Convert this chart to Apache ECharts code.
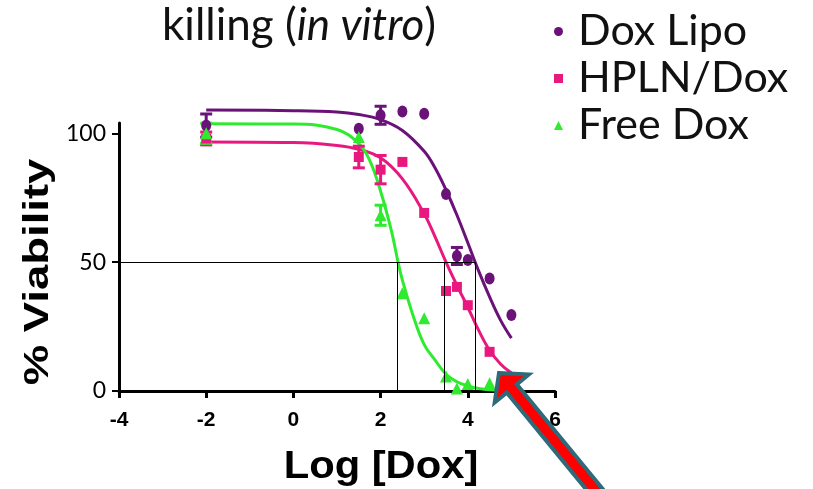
<!DOCTYPE html>
<html>
<head>
<meta charset="utf-8">
<script src="https://cdn.jsdelivr.net/npm/echarts@6/dist/echarts.min.js"></script>
<style>
  html, body { margin: 0; padding: 0; background: #fff; }
  #main { width: 813px; height: 489px; }
</style>
</head>
<body>
<div id="main"></div>
<script>
// measured points [logDox, % viability]
const lipoPts = [[-2, 103], [1.5, 101.8], [2, 107], [2.5, 108.5], [3, 107.6], [3.5, 76.4], [3.75, 52.4], [4, 50.8], [4.5, 43.7], [5, 29.5]];
const hplnPts = [[-2, 98], [1.5, 90.8], [2, 85.9], [2.5, 88.9], [3, 69.1], [3.5, 38.8], [3.75, 40.4], [4, 33.3], [4.5, 15.2]];
const freePts = [[-2, 100], [1.5, 98.6], [2, 68.2], [2.5, 37.9], [3, 28.2], [3.5, 5.6], [3.75, 1.0], [4, 2.7], [4.5, 3.0]];

// error bars [x, mean, +/-]
const lipoErr = [[-2, 103, 4.5], [2, 107, 3.5], [3.75, 52.4, 3.3]];
const hplnErr = [[-2, 98, 2.5], [1.5, 90.8, 4.2], [2, 85.9, 5.5]];
const freeErr = [[-2, 100, 3.9], [2, 68.2, 3.9]];

// fitted curves
const lipoFit = [[-2, 109], [0, 108.8], [1, 108.3], [1.5, 107.3], [2, 105.3], [2.5, 101.1], [3, 93], [3.25, 86.5], [3.5, 78], [3.75, 68.3], [4, 57.5], [4.25, 46.5], [4.5, 36.5], [4.75, 27.5], [5, 20.5]];
const hplnFit = [[-2, 96.6], [0, 96.4], [1, 95.3], [1.5, 93.8], [2, 90.5], [2.5, 82.3], [3, 68.8], [3.25, 59.8], [3.5, 50], [3.75, 41], [4, 32.5], [4.25, 23.5], [4.5, 15.8], [4.75, 10.5], [5, 7]];
const freeFit = [[-2, 103.7], [0, 103.6], [1, 101.5], [1.5, 96], [1.75, 89.5], [2, 77.5], [2.25, 62], [2.4, 50], [2.5, 43], [2.75, 29], [3, 18], [3.25, 12], [3.5, 6.5], [3.75, 3.6], [4, 2], [4.25, 1], [4.5, 0.5], [5, 0.2]];

// IC50 guide lines
const icLevel = 50;
const icX = [2.38, 3.46, 4.17];

const yTicks = [0, 50, 100];

const PURPLE = '#6a1278', PINK = '#e8187e', GREEN = '#2fea2f';

var chart = echarts.init(document.getElementById('main'));

function errBar(color) {
  return function (params, api) {
    var x = api.value(0), m = api.value(1), e = api.value(2);
    var top = api.coord([x, m + e]), bot = api.coord([x, m - e]);
    var hw = 6;
    var st = { stroke: color, lineWidth: 3 };
    return {
      type: 'group',
      children: [
        { type: 'line', shape: { x1: top[0], y1: top[1], x2: bot[0], y2: bot[1] }, style: st },
        { type: 'line', shape: { x1: top[0] - hw, y1: top[1], x2: top[0] + hw, y2: top[1] }, style: st },
        { type: 'line', shape: { x1: bot[0] - hw, y1: bot[1], x2: bot[0] + hw, y2: bot[1] }, style: st }
      ]
    };
  };
}

function fitLine(data, color, extra) {
  return Object.assign({
    type: 'line', data: data, smooth: 0.4, showSymbol: false,
    clip: false, silent: true, lineStyle: { color: color, width: 3 }, z: 2
  }, extra || {});
}

// arrow annotation
var tip = [499, 373];
var d = [-0.635, -0.773], p = [0.773, -0.635];
var headLen = 20, headHalf = 22, shaftHalf = 6.5, shaftLen = 160;
var B = [tip[0] - headLen * d[0], tip[1] - headLen * d[1]];
var E = [B[0] - shaftLen * d[0], B[1] - shaftLen * d[1]];
var arrowPts = [
  tip,
  [B[0] + headHalf * p[0], B[1] + headHalf * p[1]],
  [B[0] + shaftHalf * p[0], B[1] + shaftHalf * p[1]],
  [E[0] + shaftHalf * p[0], E[1] + shaftHalf * p[1]],
  [E[0] - shaftHalf * p[0], E[1] - shaftHalf * p[1]],
  [B[0] - shaftHalf * p[0], B[1] - shaftHalf * p[1]],
  [B[0] - headHalf * p[0], B[1] - headHalf * p[1]]
];

var option = {
  backgroundColor: '#fff',
  animation: false,
  title: {
    text: '{n|killing (}{i|in vitro}{n|)}',
    left: 157, top: -1,
    textStyle: {
      fontWeight: 'normal',
      rich: {
        n: { fontFamily: 'Lato', fontSize: 44, fontWeight: 'normal', color: '#111' },
        i: { fontFamily: 'Lato', fontSize: 44, fontWeight: 'normal', fontStyle: 'italic', color: '#111' }
      }
    }
  },
  legend: {
    orient: 'vertical', left: 549, top: 5,
    itemWidth: 9, itemHeight: 9, itemGap: 4,
    data: [
      { name: 'Dox Lipo', icon: 'circle' },
      { name: 'HPLN/Dox', icon: 'rect' },
      { name: 'Free Dox', icon: 'triangle' }
    ],
    textStyle: { fontFamily: 'Lato', fontSize: 43, color: '#111', padding: [0, 0, 0, 10] }
  },
  grid: { left: 119, top: 123, width: 436, height: 268 },
  xAxis: {
    type: 'value', min: -4, max: 6, interval: 2,
    splitLine: { show: false },
    axisLine: { show: true, onZero: false, lineStyle: { color: '#000', width: 3 } },
    axisTick: { show: true, length: 7, lineStyle: { color: '#000', width: 3 } },
    axisLabel: { margin: 19, color: '#000', fontFamily: 'Liberation Sans', fontWeight: 'bold', fontSize: 21 }
  },
  yAxis: {
    type: 'value', min: 0, max: 104,
    splitLine: { show: false },
    axisLine: { show: true, onZero: false, lineStyle: { color: '#000', width: 3 } },
    axisTick: { show: true, length: 7, customValues: yTicks, lineStyle: { color: '#000', width: 2 } },
    axisLabel: { margin: 13, color: '#000', fontFamily: 'Lato', fontSize: 23, customValues: yTicks }
  },
  series: [
    fitLine(lipoFit, PURPLE, {
      markLine: {
        silent: true, symbol: 'none', label: { show: false },
        lineStyle: { color: '#000', width: 1, type: 'solid' },
        data: [[{ coord: [-4, icLevel] }, { coord: [icX[2], icLevel] }]].concat(
          icX.map(function (x) { return [{ coord: [x, 0] }, { coord: [x, icLevel] }]; })
        )
      }
    }),
    fitLine(hplnFit, PINK),
    fitLine(freeFit, GREEN),
    { type: 'custom', renderItem: errBar(PURPLE), data: lipoErr, clip: false, z: 3 },
    { type: 'custom', renderItem: errBar(PINK), data: hplnErr, clip: false, z: 3 },
    { type: 'custom', renderItem: errBar(GREEN), data: freeErr, clip: false, z: 3 },
    { name: 'Dox Lipo', type: 'scatter', data: lipoPts, symbol: 'circle', symbolSize: [10, 12], itemStyle: { color: PURPLE, opacity: 1 }, clip: false, z: 4 },
    { name: 'HPLN/Dox', type: 'scatter', data: hplnPts, symbol: 'rect', symbolSize: 10, itemStyle: { color: PINK, opacity: 1 }, clip: false, z: 4 },
    { name: 'Free Dox', type: 'scatter', data: freePts, symbol: 'triangle', symbolSize: 12, itemStyle: { color: GREEN, opacity: 1 }, clip: false, z: 4 }
  ],
  graphic: [
    {
      type: 'text', x: 38, y: 272, rotation: Math.PI / 2, scaleX: 1.3,
      style: { text: '% Viability', font: 'bold 35px "Liberation Sans"', fill: '#000', align: 'center', verticalAlign: 'middle' }
    },
    {
      type: 'text', x: 381, y: 467, scaleX: 1.07,
      style: { text: 'Log [Dox]', font: 'bold 39px "Liberation Sans"', fill: '#000', align: 'center', verticalAlign: 'middle' }
    },
    {
      type: 'polygon', z: 100,
      shape: { points: arrowPts },
      style: { fill: '#ff0000', stroke: '#2d6a7a', lineWidth: 4, lineJoin: 'miter' }
    }
  ]
};

chart.setOption(option);
</script>
</body>
</html>
